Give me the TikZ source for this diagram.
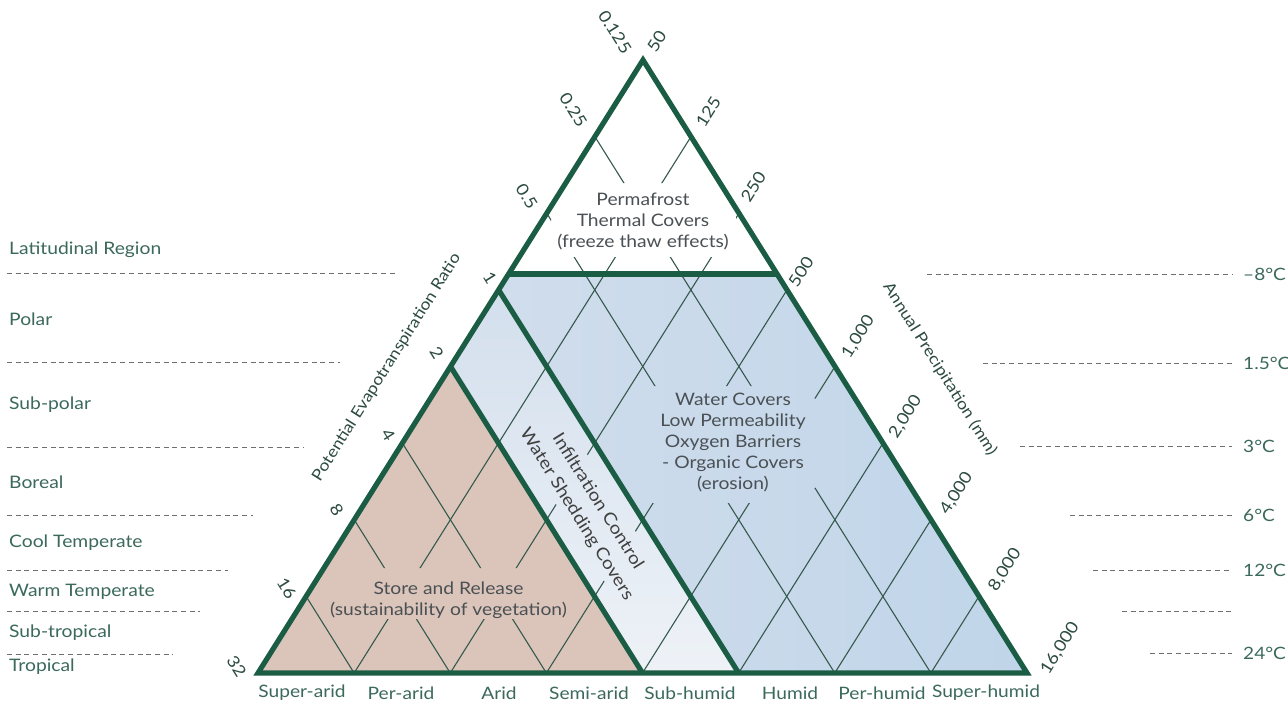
\documentclass[tikz,border=0pt]{standalone}
\usepackage{fontspec}
\setmainfont{Lato}[FakeStretch=1.12]
\usetikzlibrary{calc}
\definecolor{tri}{HTML}{1B5C44}
\definecolor{gridc}{HTML}{36594D}
\definecolor{brownf}{HTML}{DBC5BA}
\definecolor{blueL}{HTML}{D0DDEC}
\definecolor{blueR}{HTML}{C0D5E9}
\definecolor{stripT}{HTML}{D3DFED}
\definecolor{stripB}{HTML}{EEF2F7}
\definecolor{labc}{HTML}{3B695C}
\definecolor{numc}{HTML}{2C4B41}
\definecolor{txtc}{HTML}{4A5054}
\definecolor{dashc}{HTML}{6E6E6E}
\tikzset{
  edgeline/.style={draw=tri, line width=5.2pt},
  gridline/.style={draw=gridc, line width=1.1pt},
  sepdash/.style={draw=dashc, line width=1pt, dash pattern=on 5pt off 3.7pt},
  latlab/.style={anchor=west, text=labc, font=\fontsize{17.2}{20}\selectfont, inner sep=0pt},
  templab/.style={anchor=west, text=labc, font=\fontsize{17}{20}\selectfont, inner sep=0pt},
  classlab/.style={text=labc, font=\fontsize{17.1}{20}\selectfont, inner sep=0pt},
  numlab/.style={text=numc, font=\fontsize{16.5}{19}\selectfont, inner sep=0pt},
  axislab/.style={text=numc, font=\fontsize{15.8}{18}\selectfont, inner sep=0pt},
  zonelab/.style={text=txtc, align=center, font=\fontsize{17.2}{21}\selectfont, inner sep=0pt},
  lattice/.style={shift={(258,673)}, x={(96.125pt,0pt)}, y={(48.125pt,76.625pt)}},
}
\begin{document}
\begin{tikzpicture}[x=1pt,y=-1pt]
\useasboundingbox[fill=white] (0,0) rectangle (1288,710);

% lattice coordinates
\begin{scope}[lattice]
  \coordinate (BL) at (0,0);
  \coordinate (BR) at (8,0);
  \coordinate (A) at (0,8);
  \foreach \k in {0,...,8} {
    \coordinate (L\k) at (0,\k);
    \coordinate (B\k) at (\k,0);
  }
  \coordinate (HL) at (0,5.2072);
  \coordinate (HR) at (2.7928,5.2072);
  \coordinate (s1) at (1.5,2.7);
  \coordinate (s2) at (1.825,3.025);
  \coordinate (s3) at (3.775,1.075);
  \coordinate (s4) at (3.45,0.75);
\end{scope}

% fills
\shade[left color=blueL, right color=blueR] (HL) -- (HR) -- (BR) -- (B5) -- (L5) -- cycle;
\shade[top color=stripT, bottom color=stripB] (L5) -- (B5) -- (B4) -- (L4) -- cycle;
\fill[brownf] (BL) -- (B4) -- (L4) -- cycle;

% grid with gaps around texts (holes wound opposite to the outer frame)
\begin{scope}
  \clip (-20,-20) -- (1310,-20) -- (1310,730) -- (-20,730) -- cycle
    (551,183) -- (551,257) -- (736,257) -- (736,183) -- cycle
    (645,386) -- (645,503) -- (795,503) -- (828,478) -- (828,405) -- (790,386) -- cycle
    (322,568) -- (322,619) -- (575,619) -- (575,568) -- cycle
    (s1) -- (s4) -- (s3) -- (s2) -- cycle;
  \begin{scope}[lattice]
    \foreach \k in {1,...,7} {
      \draw[gridline] (\k,0) -- (\k,{8-\k});
      \draw[gridline] (0,\k) -- (\k,0);
    }
  \end{scope}
\end{scope}

% thick boundaries
\draw[edgeline] (HL) -- (HR);
\draw[edgeline] (L4) -- (B4);
\draw[edgeline] (L5) -- (B5);
\draw[edgeline, line join=miter] (BL) -- (BR) -- (A) -- cycle;

% zone texts
\node[zonelab] (perma) at (643,222) {Permafrost\\Thermal Covers\\(freeze thaw effects)};
\node[zonelab] (water) at (733,443) {Water Covers\\Low Permeability\\Oxygen Barriers\\- Organic Covers\\(erosion)};
\node[zonelab] (store) at (448.5,600) {Store and Release\\(sustainability of vegetation)};
\node[zonelab, text=black!75, font=\fontsize{17.2}{25}\selectfont, rotate=-57.9] (strip) at (587,508) {Infiltration Control\\Water Shedding Covers};

% left axis numbers
\node[numlab, rotate=-57.9] (l0) at (615,32) {0.125};
\node[numlab, rotate=-57.9] (l1) at (573.3,110) {0.25};
\node[numlab, rotate=-57.9] (l2) at (526.7,196.7) {0.5};
\node[numlab, rotate=-57.9] (l3) at (490,278.3) {1};
\node[numlab, rotate=-57.9] (l4) at (436.7,353.3) {2};
\node[numlab, rotate=-57.9] (l5) at (388.3,435) {4};
\node[numlab, rotate=-57.9] (l6) at (336.7,510) {8};
\node[numlab, rotate=-57.9] (l7) at (286.7,588.3) {16};
\node[numlab, rotate=-57.9] (l8) at (236.7,666.7) {32};

% right axis numbers
\node[numlab, rotate=57.9] (r0) at (656.7,41.7) {50};
\node[numlab, rotate=57.9] (r1) at (708.3,111.7) {125};
\node[numlab, rotate=57.9] (r2) at (753.3,186.7) {250};
\node[numlab, rotate=57.9] (r3) at (801,272) {500};
\node[numlab, rotate=57.9] (r4) at (858.3,336.7) {1,000};
\node[numlab, rotate=57.9] (r5) at (905.5,416.7) {2,000};
\node[numlab, rotate=57.9] (r6) at (956.5,493.3) {4,000};
\node[numlab, rotate=57.9] (r7) at (1005,570) {8,000};
\node[numlab, rotate=57.9] (r8) at (1060,648.3) {16,000};

% axis titles
\node[axislab, rotate=57.9] (pet) at (386.7,367.5) {Potential Evapotranspiration Ratio};
\node[axislab, rotate=-57.9] (prec) at (940,369) {Annual Precipitation (mm)};

% humidity classes
\node[classlab] (c1) at (302,693) {Super-arid};
\node[classlab] (c2) at (401,693) {Per-arid};
\node[classlab] (c3) at (499,693) {Arid};
\node[classlab] (c4) at (589,693) {Semi-arid};
\node[classlab] (c5) at (690,693) {Sub-humid};
\node[classlab] (c6) at (790,693) {Humid};
\node[classlab] (c7) at (882,693) {Per-humid};
\node[classlab] (c8) at (986,693) {Super-humid};

% latitudinal regions
\node[latlab] (lat0) at (9,250) {Latitudinal Region};
\node[latlab] (lat1) at (9,319) {Polar};
\node[latlab] (lat2) at (9,405) {Sub-polar};
\node[latlab] (lat3) at (9,482) {Boreal};
\node[latlab] (lat4) at (9,543) {Cool Temperate};
\node[latlab] (lat5) at (9,592) {Warm Temperate};
\node[latlab] (lat6) at (9,633) {Sub-tropical};
\node[latlab] (lat7) at (9,667) {Tropical};

\draw[sepdash] (7,273.3) -- (395,273.3);
\draw[sepdash] (7,362.7) -- (340,362.7);
\draw[sepdash] (7,447.3) -- (303,447.3);
\draw[sepdash] (7,515) -- (253,515);
\draw[sepdash] (7,570) -- (228,570);
\draw[sepdash] (7,611.7) -- (200,611.7);
\draw[sepdash] (7,654) -- (173,654);

% temperatures
\draw[sepdash] (927,274) -- (1232,274);
\draw[sepdash] (983,363.3) -- (1232,363.3);
\draw[sepdash] (1020,446.7) -- (1232,446.7);
\draw[sepdash] (1070,515) -- (1232,515);
\draw[sepdash] (1093,570) -- (1232,570);
\draw[sepdash] (1122,611.7) -- (1232,611.7);
\draw[sepdash] (1150,653.3) -- (1232,653.3);
\node[templab] (t1) at (1243,274) {–8°C};
\node[templab] (t2) at (1243,363.3) {1.5°C};
\node[templab] (t3) at (1243,446.7) {3°C};
\node[templab] (t4) at (1243,515) {6°C};
\node[templab] (t5) at (1243,570) {12°C};
\node[templab] (t6) at (1243,653.3) {24°C};
\end{tikzpicture}
\end{document}
